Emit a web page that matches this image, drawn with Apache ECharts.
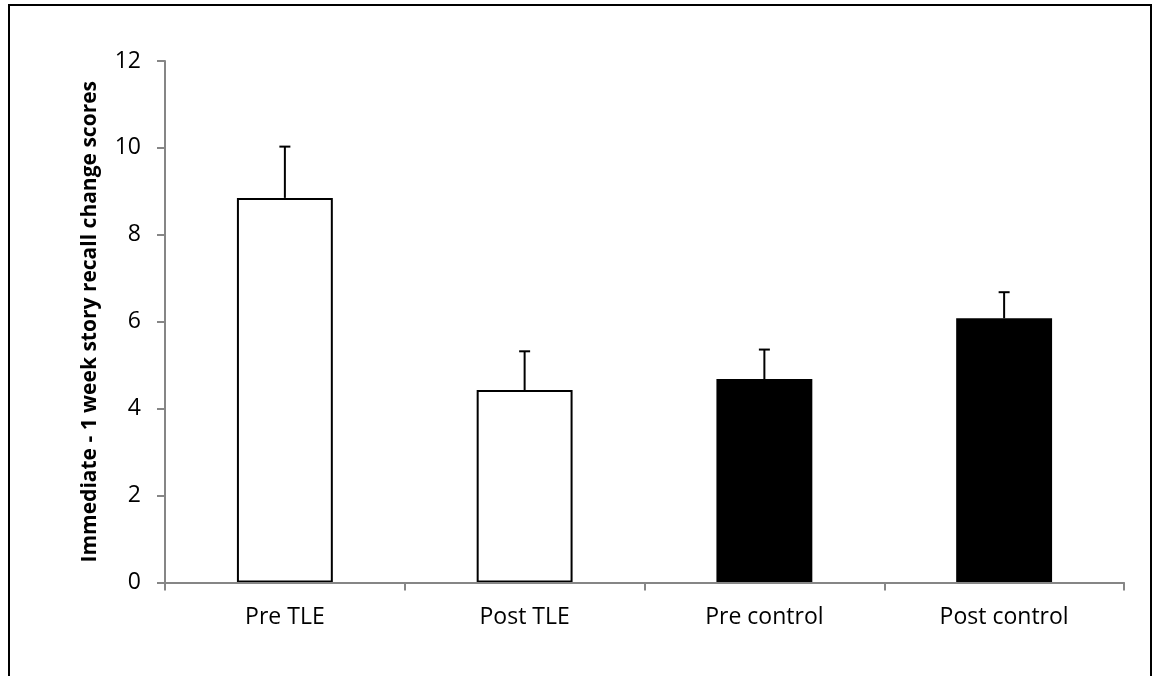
<!DOCTYPE html>
<html>
<head>
<meta charset="utf-8">
<script src="https://cdn.jsdelivr.net/npm/echarts@6/dist/echarts.min.js"></script>
<style>
html,body{margin:0;padding:0;background:#fff;}
#chart{width:1159px;height:676px;}
</style>
</head>
<body>
<div id="chart"></div>
<script>
var categories = ['Pre TLE', 'Post TLE', 'Pre control', 'Post control'];
var means = [8.85, 4.43, 4.68, 6.08];
var errorTops = [10.03, 5.32, 5.36, 6.68];
var fillColors = ['#ffffff', '#ffffff', '#000000', '#000000'];
var yTicks = [0, 2, 4, 6, 8, 10, 12];
var yTitle = 'Immediate - 1 week story recall change scores';

var font = '"Open Sans", "Noto Sans", sans-serif';
var chart = echarts.init(document.getElementById('chart'));

var barData = means.map(function (v, i) {
  return {
    value: v,
    itemStyle: {
      color: fillColors[i],
      borderColor: '#000',
      borderWidth: fillColors[i] === '#ffffff' ? 2 : 0
    }
  };
});
var errData = means.map(function (v, i) { return [i, v, errorTops[i]]; });

chart.setOption({
  animation: false,
  backgroundColor: '#fff',
  grid: { left: 165, right: 35, top: 61, bottom: 93.5, containLabel: false },
  graphic: [{
    type: 'rect',
    shape: { x: 9, y: 5, width: 1142, height: 720 },
    style: { fill: 'none', stroke: '#000', lineWidth: 2 },
    z: 100
  }],
  xAxis: {
    type: 'category',
    data: categories,
    axisLine: { lineStyle: { color: '#868686', width: 2 } },
    axisTick: { show: true, length: 8, lineStyle: { color: '#868686', width: 2 }, alignWithLabel: false },
    axisLabel: { color: '#000', fontFamily: font, fontSize: 23, margin: 23 },
    z: 5
  },
  yAxis: {
    type: 'value',
    min: yTicks[0],
    max: yTicks[yTicks.length - 1],
    interval: 2,
    name: yTitle,
    nameLocation: 'middle',
    nameGap: 64,
    nameRotate: 90,
    nameTextStyle: { color: '#000', fontFamily: font, fontSize: 21, fontWeight: 'bold' },
    axisLine: { show: true, lineStyle: { color: '#868686', width: 2 } },
    axisTick: { show: true, length: 8, lineStyle: { color: '#868686', width: 2 } },
    axisLabel: { color: '#000', fontFamily: font, fontSize: 23, margin: 24 },
    splitLine: { show: false }
  },
  series: [{
    type: 'bar',
    data: barData,
    barWidth: '40%',
    z: 2
  }, {
    type: 'custom',
    data: errData,
    z: 3,
    renderItem: function (params, api) {
      var x = api.value(0);
      var base = api.coord([x, api.value(1)]);
      var top = api.coord([x, api.value(2)]);
      var half = 5.5;
      var style = { stroke: '#000', lineWidth: 2 };
      return {
        type: 'group',
        children: [
          { type: 'line', shape: { x1: base[0], y1: base[1], x2: top[0], y2: top[1] }, style: style },
          { type: 'line', shape: { x1: top[0] - half, y1: top[1], x2: top[0] + half, y2: top[1] }, style: style }
        ]
      };
    }
  }]
});
</script>
</body>
</html>
